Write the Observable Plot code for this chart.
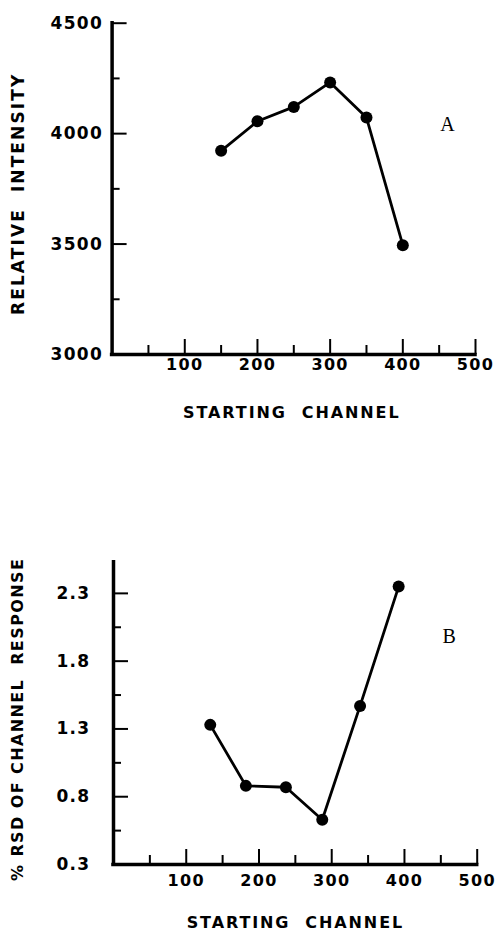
<!DOCTYPE html>
<html>
<head>
<meta charset="utf-8">
<script src="https://cdn.jsdelivr.net/npm/d3@7"></script>
<script src="https://cdn.jsdelivr.net/npm/@observablehq/plot@0.6"></script>
<style>
  body { margin: 0; background: #fff; }
  #chart { position: relative; width: 499px; height: 931px; background: #fff; }
  #chart svg { position: absolute; left: 0; }
</style>
</head>
<body>
<div id="chart"></div>
<script>
// Panel A: relative intensity by starting channel
const channelsA = [150, 200, 250, 300, 350, 400];
const intensityA = [3922, 4056, 4121, 4232, 4073, 3495];

// Panel B: % RSD of channel response by starting channel
const channelsB = [133, 182, 237, 287, 339, 392];
const rsdB = [1.33, 0.88, 0.87, 0.63, 1.47, 2.35];

// Tick positions
const xMajorTicks = [100, 200, 300, 400, 500];
const xMinorTicks = [50, 150, 250, 350, 450];
const yLabelsA = [3000, 3500, 4000, 4500];
const yMajorA = [3500, 4000, 4500];
const yMinorA = [3250, 3750, 4250];
const yLabelsB = [0.3, 0.8, 1.3, 1.8, 2.3];
const yMajorB = [0.8, 1.3, 1.8, 2.3];
const yMinorB = [0.55, 1.05, 1.55, 2.05];

// Titles
const xTitle = "STARTING  CHANNEL";
const yTitleA = "RELATIVE  INTENSITY";
const yTitleB = "% RSD OF CHANNEL  RESPONSE";
const tagA = "A";
const tagB = "B";

const W = 499;

function panel(cfg) {
  const plotW = W - cfg.marginLeft - cfg.marginRight;
  const plotH = cfg.height - cfg.marginTop - cfg.marginBottom;
  const data = cfg.xs.map((x, i) => ({channel: x, value: cfg.ys[i]}));
  const svg = Plot.plot({
    width: W,
    height: cfg.height,
    marginTop: cfg.marginTop,
    marginBottom: cfg.marginBottom,
    marginLeft: cfg.marginLeft,
    marginRight: cfg.marginRight,
    style: {fontFamily: "DejaVu Sans", background: "white", color: "black", overflow: "visible"},
    x: {domain: [0, 500]},
    y: {domain: cfg.yDomain},
    marks: [
      // inward-pointing ticks
      Plot.tickX(xMajorTicks, {insetTop: plotH - 15, stroke: "black", strokeWidth: 2}),
      Plot.tickX(xMinorTicks, {insetTop: plotH - 9, stroke: "black", strokeWidth: 2}),
      Plot.tickY(cfg.yMajor, {insetRight: plotW - 15, stroke: "black", strokeWidth: 2}),
      Plot.tickY(cfg.yMinor, {insetRight: plotW - 8, stroke: "black", strokeWidth: 2}),
      // axis lines
      Plot.ruleX([0], {stroke: "black", strokeWidth: 3.5, strokeLinecap: "square"}),
      Plot.ruleY([cfg.yDomain[0]], {stroke: "black", strokeWidth: 3.5, strokeLinecap: "square"}),
      // tick labels
      Plot.axisX({ticks: xMajorTicks, tickSize: 0, tickPadding: cfg.xPad, fontSize: 16, fontWeight: "bold", label: null}),
      Plot.axisY({ticks: cfg.yLabels, tickSize: 0, tickPadding: cfg.yPad, fontSize: 17, fontWeight: "bold", label: null, tickFormat: cfg.yFormat}),
      // data
      Plot.line(data, {x: "channel", y: "value", stroke: "black", strokeWidth: 2.8}),
      Plot.dot(data, {x: "channel", y: "value", r: 6, fill: "black", stroke: "none"}),
      // titles
      Plot.text([cfg.yTitle], {frameAnchor: "left", rotate: -90, dx: cfg.yTitleDx, dy: cfg.yTitleDy,
        fontSize: cfg.yTitleSize, fontWeight: "bold", fill: "black", textAnchor: "middle", lineAnchor: "middle"}),
      Plot.text([xTitle], {frameAnchor: "bottom", dx: cfg.xTitleDx, dy: cfg.xTitleDy,
        fontSize: cfg.xTitleSize, fontWeight: "bold", fill: "black", textAnchor: "middle", lineAnchor: "middle"}),
      Plot.text([cfg.tag], {frameAnchor: "top-right", dx: cfg.tagDx, dy: cfg.tagDy,
        fontSize: 20, fontFamily: "Liberation Serif", fill: "black", textAnchor: "middle", lineAnchor: "middle"})
    ]
  });
  // spaced-out lettering for titles and tick labels
  svg.querySelectorAll("text").forEach(t => {
    const s = t.textContent;
    if (s === cfg.yTitle) t.style.letterSpacing = cfg.yTitleSpacing + "px";
    else if (s === xTitle) t.style.letterSpacing = cfg.xTitleSpacing + "px";
    else if (s !== cfg.tag) t.style.letterSpacing = "1.3px";
  });
  svg.style.top = cfg.top + "px";
  return svg;
}

const chart = document.getElementById("chart");

chart.appendChild(panel({
  xs: channelsA, ys: intensityA,
  top: 0, height: 440,
  marginTop: 22.7, marginBottom: 86, marginLeft: 111.6, marginRight: 24,
  yDomain: [3000, 4500],
  yLabels: yLabelsA, yMajor: yMajorA, yMinor: yMinorA,
  yFormat: d => String(d), yPad: 9, xPad: 4,
  yTitle: yTitleA, yTitleSize: 17, yTitleSpacing: 2.1, yTitleDx: -94, yTitleDy: 5,
  xTitleSize: 16, xTitleSpacing: 1.9, xTitleDx: -2, xTitleDy: 58.5,
  tag: tagA, tagDx: -28, tagDy: 101
}));

chart.appendChild(panel({
  xs: channelsB, ys: rsdB,
  top: 460, height: 471,
  marginTop: 101.7, marginBottom: 67, marginLeft: 113, marginRight: 22.3,
  yDomain: [0.3, 2.53],
  yLabels: yLabelsB, yMajor: yMajorB, yMinor: yMinorB,
  yFormat: d3.format(".1f"), yPad: 23, xPad: 10,
  yTitle: yTitleB, yTitleSize: 16, yTitleSpacing: 1.4, yTitleDx: -95.5, yTitleDy: 6,
  xTitleSize: 16, xTitleSpacing: 1.9, xTitleDx: 0, xTitleDy: 58,
  tag: tagB, tagDx: -28, tagDy: 74
}));
</script>
</body>
</html>
